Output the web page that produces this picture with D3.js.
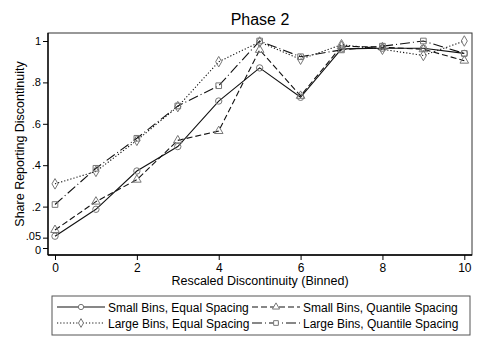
<!DOCTYPE html>
<html lang="en">
<head>
<meta charset="UTF-8">
<title>Phase 2</title>
<style>
body { margin: 0; background: #fff; }
svg text { font-family: 'Liberation Sans', Arial, sans-serif !important; fill: #000; }
</style>
</head>
<body>
<div id="vis"></div>
<script src="https://d3js.org/d3.v7.min.js"></script>
<script>
const width = 485;
const height = 352;

const bins = [0, 1, 2, 3, 4, 5, 6, 7, 8, 9, 10];
const smallEqual = [0.057, 0.187, 0.372, 0.49, 0.71, 0.87, 0.728, 0.962, 0.965, 0.965, 0.94];
const smallQuantile = [0.087, 0.224, 0.33, 0.52, 0.565, 0.957, 0.735, 0.975, 0.97, 0.96, 0.905];
const largeEqual = [0.31, 0.37, 0.52, 0.683, 0.90, 0.995, 0.912, 0.982, 0.96, 0.93, 1.0];
const largeQuantile = [0.21, 0.385, 0.53, 0.686, 0.784, 1.0, 0.924, 0.957, 0.975, 1.0, 0.94];
const xTicks = [0, 2, 4, 6, 8, 10];
const yTicks = [0, 0.05, 0.2, 0.4, 0.6, 0.8, 1];
const yTickLabels = ["0", ".05", ".2", ".4", ".6", ".8", "1"];

const series = [
  { name: "Small Bins, Equal Spacing", values: smallEqual, dash: null, symbol: d3.symbolCircle },
  { name: "Small Bins, Quantile Spacing", values: smallQuantile, dash: "6,3", symbol: d3.symbolTriangle },
  { name: "Large Bins, Equal Spacing", values: largeEqual, dash: "1.2,2", symbol: d3.symbolDiamond },
  { name: "Large Bins, Quantile Spacing", values: largeQuantile, dash: "10,3,1,3", symbol: d3.symbolSquare }
];

const plotLeft = 48, plotRight = 472, plotTop = 33, plotBottom = 255;

let x = d3.scaleLinear().domain([0, 10]).range([55, 464.3]);
let y = d3.scaleLinear().domain([0, 1]).range([248, 41]);

let svg = d3.select("#vis").append("svg")
  .attr("width", width)
  .attr("height", height)
  .style("font-family", "'Liberation Sans', Arial, sans-serif");

svg.append("rect")
  .attr("x", plotLeft).attr("y", plotTop)
  .attr("width", plotRight - plotLeft).attr("height", plotBottom - plotTop)
  .attr("fill", "none").attr("stroke", "#333").attr("stroke-width", 1);

// axes
let xAxis = svg.append("g")
  .attr("transform", "translate(0," + plotBottom + ")")
  .call(d3.axisBottom(x).tickValues(xTicks).tickSize(5).tickPadding(3).tickFormat(d3.format("d")));
let yAxis = svg.append("g")
  .attr("transform", "translate(" + plotLeft + ",0)")
  .call(d3.axisLeft(y).tickValues(yTicks).tickSize(5).tickPadding(2)
    .tickFormat(function(d, i){ return yTickLabels[i]; }));

[xAxis, yAxis].forEach(function(g){
  g.attr("font-family", null);
  g.select(".domain").attr("stroke", "#000").attr("stroke-width", 1.3);
  g.selectAll(".tick line").attr("stroke", "#000");
  g.selectAll(".tick text").style("font-size", "12px").attr("fill", "#000");
});
// .05 and 0 sit close together: spread them a touch
yAxis.selectAll(".tick text")
  .style("font-size", "11px")
  .attr("y", function(d){ return d === 0 ? 1.5 : (d === 0.05 ? -1.5 : 0); });
xAxis.select(".domain").attr("d", "M" + plotLeft + ",0H" + plotRight);
yAxis.select(".domain").attr("d", "M0," + plotTop + "V" + plotBottom);

// titles
svg.append("text")
  .attr("x", 260).attr("y", 25)
  .attr("text-anchor", "middle")
  .style("font-size", "16px")
  .text("Phase 2");
svg.append("text")
  .attr("x", 260).attr("y", 285)
  .attr("text-anchor", "middle")
  .style("font-size", "12.5px")
  .text("Rescaled Discontinuity (Binned)");
svg.append("text")
  .attr("transform", "translate(24," + 144 + ") rotate(-90)")
  .attr("text-anchor", "middle")
  .style("font-size", "12.5px")
  .text("Share Reporting Discontinuity");

let line = d3.line()
  .x(function(d, i){ return x(bins[i]); })
  .y(function(d){ return y(d); });

let sym = function(s){ return d3.symbol().type(s).size(32)(); };

series.forEach(function(s){
  svg.append("path")
    .attr("d", line(s.values))
    .attr("fill", "none")
    .attr("stroke", "#111")
    .attr("stroke-width", 1.1)
    .attr("stroke-dasharray", s.dash);
  svg.selectAll(null)
    .data(s.values)
    .enter().append("path")
    .attr("d", sym(s.symbol))
    .attr("transform", function(d, i){ return "translate(" + x(bins[i]) + "," + y(d) + ")"; })
    .attr("fill", "none")
    .attr("stroke", "#777")
    .attr("stroke-width", 1);
});

// legend
svg.append("rect")
  .attr("x", 52).attr("y", 296)
  .attr("width", 418).attr("height", 39)
  .attr("fill", "#fff").attr("stroke", "#555");

let legendPos = [[57, 307], [252, 307], [57, 323], [252, 323]];
series.forEach(function(s, i){
  let lx = legendPos[i][0], ly = legendPos[i][1];
  let g = svg.append("g").attr("transform", "translate(" + lx + "," + ly + ")");
  g.append("line")
    .attr("x1", 0).attr("x2", 48).attr("y1", 0).attr("y2", 0)
    .attr("stroke", "#111").attr("stroke-width", 1.1)
    .attr("stroke-dasharray", s.dash);
  g.append("path")
    .attr("d", d3.symbol().type(s.symbol).size(22)())
    .attr("transform", "translate(24,0)")
    .attr("fill", "#fff").attr("stroke", "#777");
  g.append("text")
    .attr("x", 51).attr("y", 4.5)
    .style("font-size", "12px")
    .text(s.name);
});
</script>
</body>
</html>
